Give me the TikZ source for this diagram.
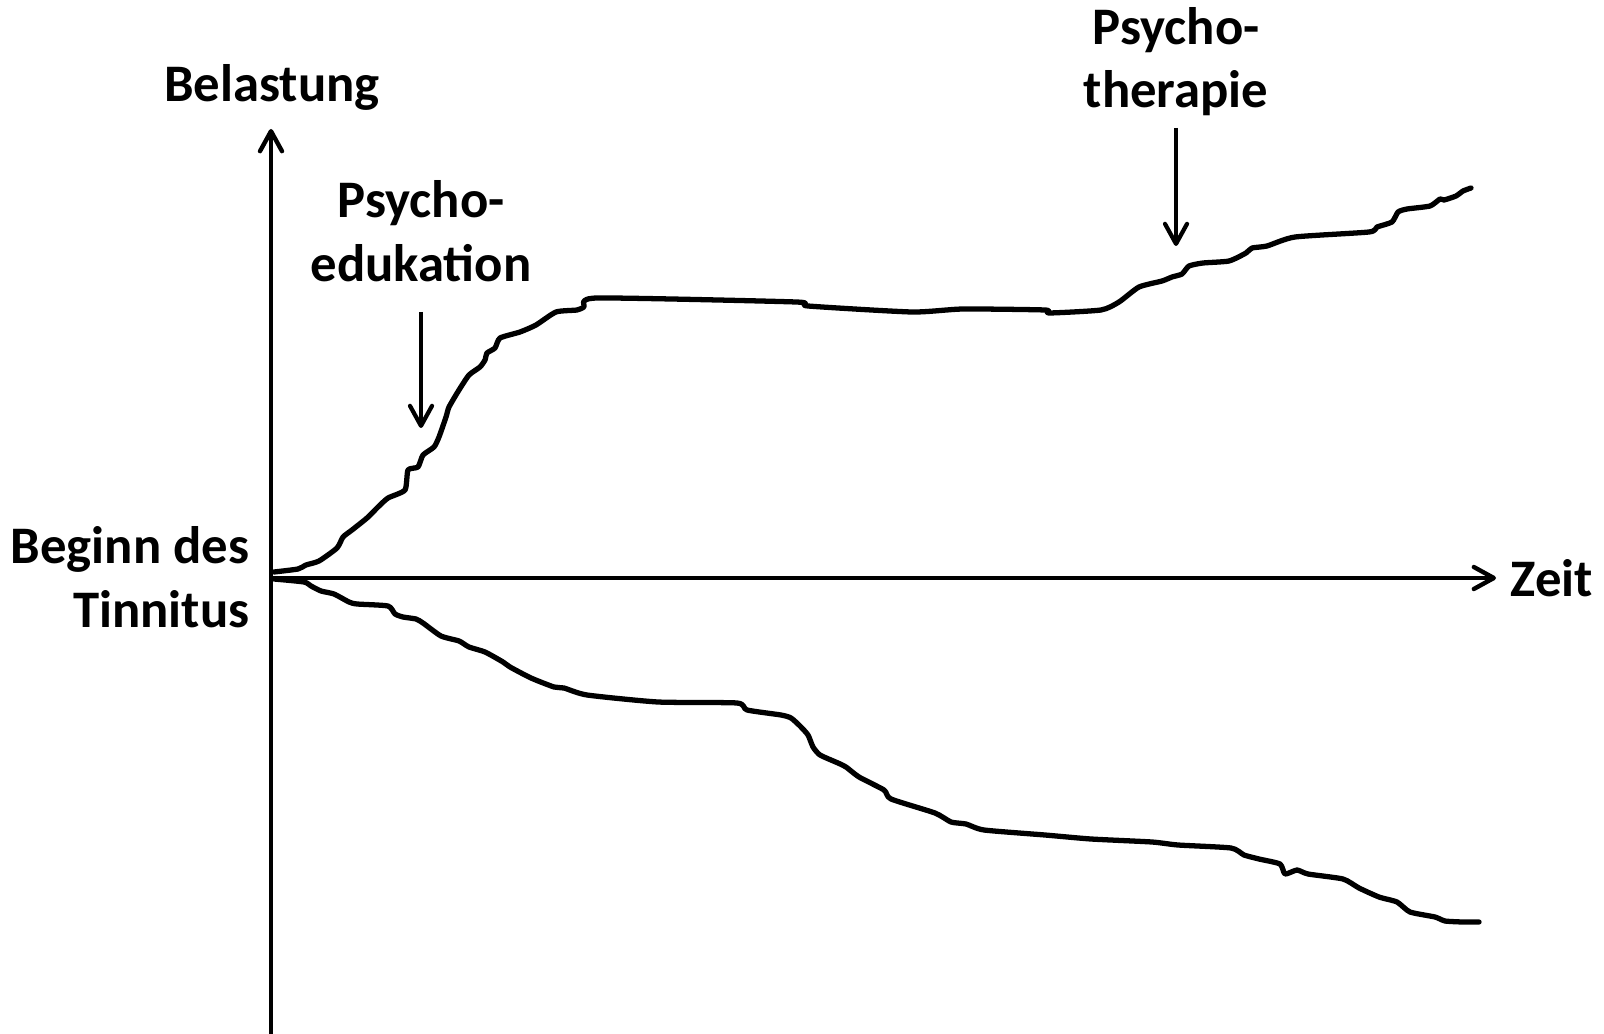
\documentclass[tikz,border=0pt]{standalone}
\usepackage{fontspec}
\setmainfont{Carlito}
\usetikzlibrary{arrows.meta}
\begin{document}
\begin{tikzpicture}[x=0.01cm,y=-0.01cm,
  lbl/.style={inner sep=0pt,anchor=base,font=\fontsize{15}{18}\selectfont\bfseries},
  axis/.style={line width=1.25pt,-{Straight Barb[length=2mm,width=2.2mm,round]}},
  pointer/.style={line width=1.2pt,-{Straight Barb[length=2mm,width=2.2mm,round]}},
  curve/.style={line width=1.5pt,line join=round,line cap=round}]
\useasboundingbox (0,0) rectangle (1604,1034);
% axes
\coordinate (O) at (271,578);
\coordinate (ybot) at (271,1040);
\coordinate (ytop) at (271,129);
\coordinate (xend) at (1496,578);
\draw[axis] (ybot) -- (ytop);
\draw[axis] (O) -- (xend);
% labels
\node[lbl] (bel) at (272,102) {Belastung};
\node[lbl] (zeit) at (1552,596) {Zeit};
\node[lbl,anchor=base east] (beg1) at (250,563) {Beginn des};
\node[lbl,anchor=base east] (beg2) at (250,627) {Tinnitus};
\node[lbl] (pe1) at (421,218) {Psycho-};
\node[lbl] (pe2) at (421,282) {edukation};
\node[lbl] (pt1) at (1176,45) {Psycho-};
\node[lbl] (pt2) at (1176,108) {therapie};
% pointers
\coordinate (peA) at (421,312);
\coordinate (peB) at (421,428);
\coordinate (ptA) at (1176,128);
\coordinate (ptB) at (1176,246);
\draw[pointer] (peA) -- (peB);
\draw[pointer] (ptA) -- (ptB);
% upper curve
\draw[curve] plot[smooth,tension=0.35] coordinates {
(274,572) (298,569) (306,565) (319,561) (337,548) (343,537) (352,530) (367,518)
(378,507) (388,498) (405,490) (408,470) (418,467) (423,455) (434,447) (439,437)
(446,417) (449,407) (459,390) (469,375) (480,367) (485,360) (487,353) (495,348)
(500,338) (520,332) (536,325) (556,312) (577,310) (584,307) (597,298)
(796,302) (808,306) (912,312) (963,309) (1045,310) (1049,313) (1101,310)
(1119,302) (1139,287) (1162,281) (1172,277) (1182,274) (1189,266) (1203,263)
(1229,261) (1246,253) (1252,248) (1267,246) (1295,237) (1369,232) (1377,227)
(1392,222) (1398,212) (1407,209) (1430,206) (1440,199) (1444,200) (1456,196)
(1463,191) (1471,188)};
% lower curve
\draw[curve] plot[smooth,tension=0.35] coordinates {
(274,579) (304,582) (311,586) (321,591) (334,594) (349,602) (357,604) (388,606)
(395,614) (403,617) (416,619) (423,623) (441,636) (459,641) (469,647) (485,652)
(503,662) (510,667) (531,678) (554,687) (564,688) (587,695) (658,702) (737,703)
(747,710) (781,715) (791,718) (800,726) (808,735) (813,747) (820,755) (838,763)
(846,767) (859,777) (884,790) (891,799) (935,813) (951,822) (966,824) (984,830)
(1045,835) (1091,839) (1152,842) (1178,845) (1231,848) (1244,855) (1259,859)
(1280,864) (1285,874) (1297,870) (1308,874) (1343,879) (1359,888) (1379,897)
(1397,902) (1410,912) (1435,917) (1445,921) (1463,922) (1479,922)};
\end{tikzpicture}
\end{document}
